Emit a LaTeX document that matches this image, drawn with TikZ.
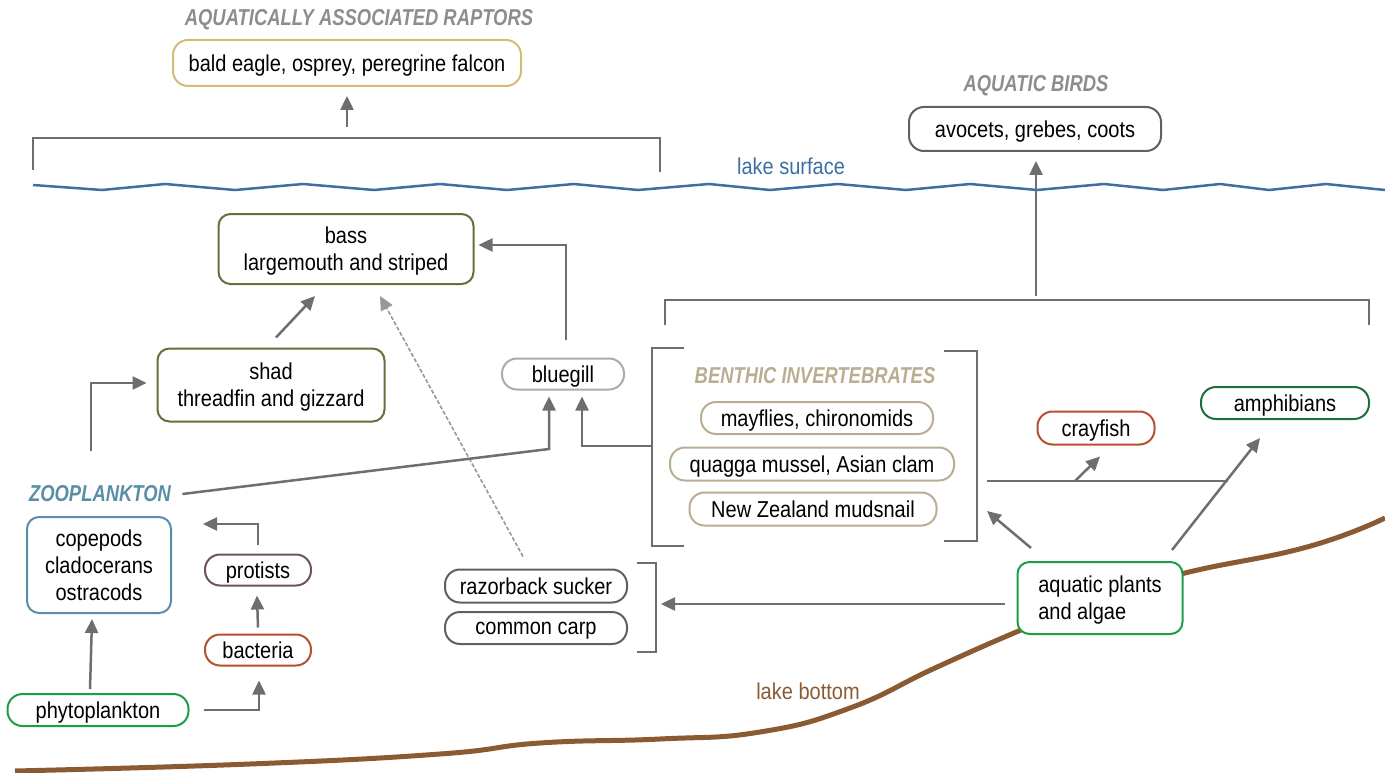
\documentclass[tikz,border=0pt]{standalone}
\usepackage{fontspec}
\setmainfont{Liberation Sans}[FakeStretch=0.87]
\newfontfamily\titlefont{Liberation Sans}[FakeStretch=0.8]
\usetikzlibrary{arrows.meta}

\definecolor{arrowgray}{HTML}{6D6E71}
\definecolor{titlegray}{HTML}{8C8D90}
\definecolor{lakeblue}{HTML}{3D6FA3}
\definecolor{bottombrown}{HTML}{8A5A33}
\definecolor{raptorgold}{HTML}{D4BD72}
\definecolor{bassolive}{HTML}{6E6B3F}
\definecolor{gillgray}{HTML}{A9ABAE}
\definecolor{dashgray}{HTML}{97989B}
\definecolor{benthictan}{HTML}{B9AE92}
\definecolor{crayrust}{HTML}{B5502F}
\definecolor{amphgreen}{HTML}{1F6E3E}
\definecolor{plantgreen}{HTML}{1E9C48}
\definecolor{zooteal}{HTML}{5A8EA6}
\definecolor{protplum}{HTML}{6E5262}
\definecolor{fishgray}{HTML}{5F6062}

\tikzset{
  box/.style={draw, fill=white, line width=2pt, rounded corners=12pt, align=center,
    inner sep=0pt, text depth=0pt, font=\fontsize{23}{27}\selectfont},
  pill/.style={box, rounded corners=15pt},
  grouptitle/.style={font=\fontsize{23}{27}\selectfont\titlefont\bfseries\itshape},
  arr/.style={draw=arrowgray, line width=2.5pt, -{Triangle[length=14pt,width=13pt]}},
  brk/.style={draw=arrowgray, line width=2.5pt},
}

\begin{document}
\begin{tikzpicture}[x=1pt, y=-1pt]
  \useasboundingbox (0,0) rectangle (1385,773);

  % Lake surface and lake bottom
  \draw[lakeblue, line width=2.5pt] (33,185) -- (102,190) -- (165,184) -- (235,190) -- (303,184)
    -- (374,190) -- (440,184) -- (507,190) -- (574,184) -- (638,190) -- (709,184) -- (770,190)
    -- (838,184) -- (906,190) -- (970,184) -- (1037,190) -- (1104,184) -- (1163,190)
    -- (1220,184) -- (1269,190) -- (1326,184) -- (1385,190);
  \node[lakeblue, font=\fontsize{23}{27}\selectfont] (surface) at (791,166) {lake surface};
  \draw[bottombrown, line width=5pt] plot[smooth, tension=0.8] coordinates {(15,771) (250,764)
    (440,754) (540,743) (660,739) (760,732) (850,708) (935,668) (1021,630) (1100,598)
    (1185,573) (1307,547) (1385,518)};
  \node[bottombrown, font=\fontsize{23}{27}\selectfont] (bottom) at (808,691) {lake bottom};

  % Raptors
  \node[grouptitle, titlegray] (raptorsT) at (359,20) {AQUATICALLY ASSOCIATED RAPTORS};
  \node[pill, draw=raptorgold, minimum width=348pt, minimum height=46pt] (raptors) at (347,63)
    {bald eagle, osprey, peregrine falcon};

  % Aquatic birds
  \node[grouptitle, titlegray] (birdsT) at (1036,86) {AQUATIC BIRDS};
  \node[pill, draw=fishgray, minimum width=252pt, minimum height=44pt] (birds) at (1035,129)
    {avocets, grebes, coots};

  % Fish
  \node[box, draw=bassolive, minimum width=255pt, minimum height=70pt] (bass) at (346,249)
    {bass\\largemouth and striped};
  \node[box, draw=bassolive, minimum width=227pt, minimum height=73pt] (shad) at (271,385)
    {shad\\threadfin and gizzard};
  \node[pill, draw=gillgray, minimum width=122pt, minimum height=31pt] (bluegill) at (563,374)
    {bluegill};
  \node[pill, draw=fishgray, minimum width=182pt, minimum height=33pt] (razorback) at (536,586)
    {razorback sucker};
  \node[pill, draw=fishgray, minimum width=182pt, minimum height=32pt] (carp) at (536,628)
    {common carp};

  % Benthic invertebrates
  \node[grouptitle, benthictan] (benthicT) at (815,376) {BENTHIC INVERTEBRATES};
  \node[pill, draw=benthictan, minimum width=232pt, minimum height=32pt] (mayflies) at (817,418)
    {mayflies, chironomids};
  \node[pill, draw=benthictan, minimum width=284pt, minimum height=33pt] (quagga) at (812,464)
    {quagga mussel, Asian clam};
  \node[pill, draw=benthictan, minimum width=247pt, minimum height=33pt] (mudsnail) at (813,509)
    {New Zealand mudsnail};

  % Crayfish, amphibians, plants
  \node[pill, draw=crayrust, minimum width=117pt, minimum height=33pt] (crayfish) at (1096,428)
    {crayfish};
  \node[pill, draw=amphgreen, minimum width=168pt, minimum height=32pt] (amphibians) at (1285,403)
    {amphibians};
  \node[box, draw=plantgreen, align=left, minimum width=165pt, minimum height=72pt] (plants)
    at (1100,598) {aquatic plants\\and algae};

  % Plankton
  \node[grouptitle, zooteal] (zooT) at (100,494) {ZOOPLANKTON};
  \node[box, draw=zooteal, minimum width=144pt, minimum height=96pt] (copepods) at (99,565)
    {copepods\\cladocerans\\ostracods};
  \node[pill, draw=plantgreen, minimum width=181pt, minimum height=32pt] (phyto) at (98,710)
    {phytoplankton};
  \node[pill, draw=crayrust, minimum width=106pt, minimum height=31pt] (bacteria) at (258,650)
    {bacteria};
  \node[pill, draw=protplum, minimum width=106pt, minimum height=31pt] (protists) at (258,570)
    {protists};

  % Brackets
  \draw[brk] (33,170) |- (660,138) -- (660,172);
  \draw[brk] (665,325) |- (1369,300) -- (1369,325);
  \draw[brk] (684,348) -- (652,348) -- (652,546) -- (684,546);
  \draw[brk] (944,351) -- (977,351) -- (977,541) -- (944,541);
  \draw[brk] (637,563) -- (656,563) -- (656,652) -- (637,652);

  % Connector points
  \coordinate (rapB) at (347,127);
  \coordinate (birdB) at (1036,296);
  \coordinate (gillK) at (549,449);
  \coordinate (bnL) at (652,446);
  \coordinate (bnR) at (987,481);
  \coordinate (amphK) at (1228,481);
  \coordinate (crayK) at (1075,481);
  \coordinate (bnIn) at (987,511);
  \coordinate (fishIn) at (661,604);

  % Arrows
  \draw[arr] (rapB) -- ([yshift=-9pt]raptors.south);
  \draw[arr] (birdB) -- ([xshift=1pt,yshift=-9pt]birds.south);
  \draw[arr] ([xshift=3pt,yshift=18pt]bluegill.north) |- ([xshift=4pt,yshift=4pt]bass.east);
  \draw[arr] ([xshift=5pt,yshift=10pt]shad.north) -- ([xshift=-31pt,yshift=-11pt]bass.south);
  \draw[draw=dashgray, line width=1.6pt, dash pattern=on 4pt off 2pt,
    -{Triangle[length=14pt,width=13pt]}]
    ([xshift=-13pt,yshift=12pt]razorback.north) -- ([xshift=34pt,yshift=-11pt]bass.south);
  \draw[arr] ([xshift=8pt]zooT.east) -- (gillK) -- ([xshift=-14pt,yshift=-6pt]bluegill.south);
  \draw[arr] (bnL) -| ([xshift=19pt,yshift=-6pt]bluegill.south);
  \draw[brk] (bnR) -- (amphK);
  \draw[arr] (crayK) -- ([xshift=4pt,yshift=-11pt]crayfish.south);
  \draw[arr] ([xshift=72pt,yshift=11pt]plants.north) -- ([xshift=-25pt,yshift=-18pt]amphibians.south);
  \draw[arr] ([xshift=-69pt,yshift=13pt]plants.north) -- (bnIn);
  \draw[arr] ([xshift=-12pt,yshift=-6pt]plants.west) -- (fishIn);
  \draw[arr] ([xshift=-9pt,yshift=31pt]zooT.north) |- ([xshift=-10pt,yshift=2pt]shad.west);
  \draw[arr] ([xshift=-8pt,yshift=4pt]phyto.north) -- ([xshift=-7pt,yshift=-5pt]copepods.south);
  \draw[arr] ([xshift=14pt]phyto.east) -| ([xshift=1pt,yshift=-14pt]bacteria.south);
  \draw[arr] ([yshift=6pt]bacteria.north) -- ([xshift=-1pt,yshift=-9pt]protists.south);
  \draw[arr] ([yshift=9pt]protists.north) |- ([xshift=31pt,yshift=41pt]copepods.east);
\end{tikzpicture}
\end{document}
